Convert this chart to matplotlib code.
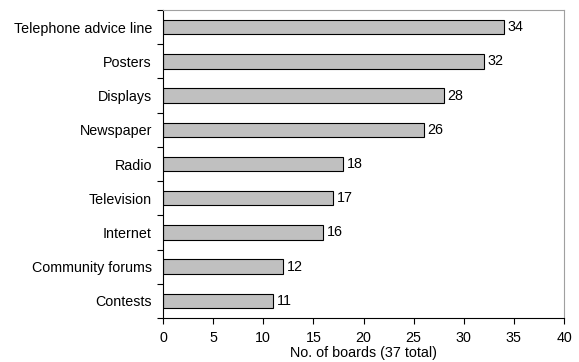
import matplotlib
matplotlib.use("Agg")
import matplotlib.pyplot as plt
import numpy as np

categories = ["Telephone advice line", "Posters", "Displays", "Newspaper", "Radio",
              "Television", "Internet", "Community forums", "Contests"]
values = [34, 32, 28, 26, 18, 17, 16, 12, 11]
xticks = [0, 5, 10, 15, 20, 25, 30, 35, 40]

plt.rcParams['font.family'] = ['Liberation Sans', 'DejaVu Sans']
plt.rcParams['font.size'] = 10.3

fig = plt.figure(figsize=(5.79, 3.62), dpi=100)
ax = fig.add_axes([163/579, 1 - 318/362, (564-163)/579, (318-10)/362])

n = len(categories)
y = np.arange(n)[::-1]
ax.barh(y, values, height=0.42, color="#c0c0c0", edgecolor="black", linewidth=0.8)
for yi, v in zip(y, values):
    ax.text(v + 0.35, yi, str(v), va="center", ha="left", fontsize=10.3)

ax.set_xlim(0, 40)
ax.set_ylim(-0.5, n - 0.5)
ax.set_xticks(xticks)
ax.set_xticklabels([str(t) for t in xticks])
ax.set_yticks(y)
ax.set_yticklabels(categories)
ax.set_yticks(np.arange(-0.5, n, 1.0), minor=True)
ax.tick_params(axis="y", which="major", length=0, pad=8)
ax.tick_params(axis="y", which="minor", length=4, direction="out", width=0.8)
ax.tick_params(axis="x", length=4, direction="out", width=0.8, pad=5.5)
ax.set_xlabel("No. of boards (37 total)", labelpad=0.5)

for s in ["top", "right"]:
    ax.spines[s].set_color("#a0a0a0")
    ax.spines[s].set_linewidth(0.8)
for s in ["left", "bottom"]:
    ax.spines[s].set_color("black")
    ax.spines[s].set_linewidth(0.8)

fig.savefig("out.png", dpi=100)
